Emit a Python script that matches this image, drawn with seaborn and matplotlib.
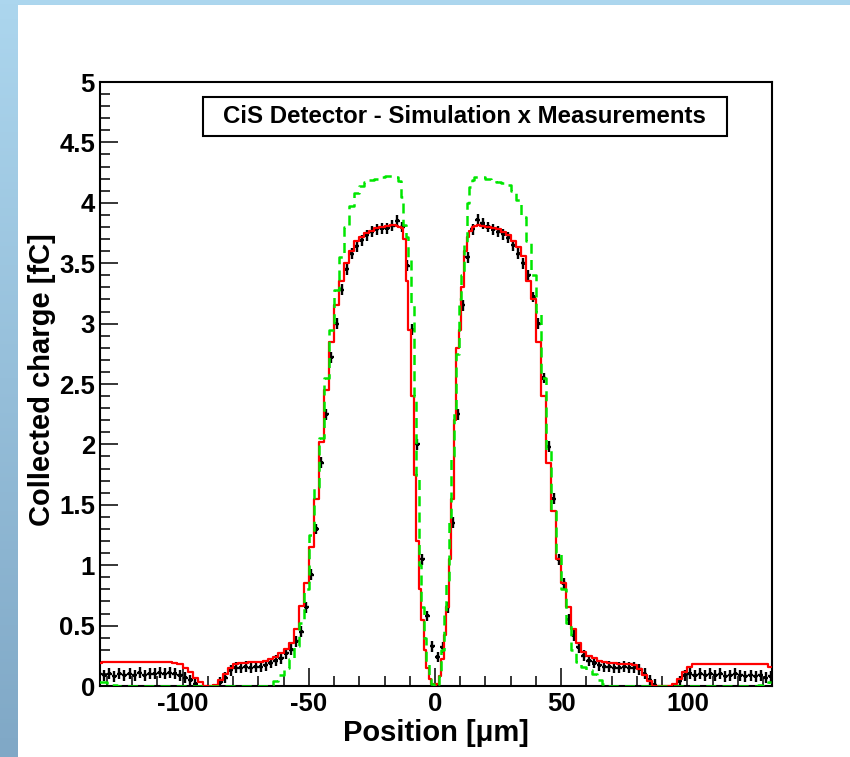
import numpy as np
import pandas as pd
import matplotlib
matplotlib.use("Agg")
import matplotlib.pyplot as plt
import seaborn as sns
from matplotlib.patches import Rectangle
from matplotlib.ticker import MultipleLocator, FuncFormatter

sns.set_theme(style="white")
plt.rcParams['font.family'] = ['Liberation Sans', 'DejaVu Sans']
plt.rcParams['axes.unicode_minus'] = False

# ---------------- data ----------------
# simulation bins: 2 um outside, 1 um in the central region
sim_x = np.concatenate([np.arange(-133, -16, 2), np.arange(-16, 17, 1), np.arange(17, 134, 2)])

red_outer_left = [
    0.19, 0.20, 0.20, 0.20, 0.20, 0.20, 0.20, 0.20, 0.20, 0.20,
    0.20, 0.20, 0.20, 0.20, 0.20, 0.19, 0.18, 0.15, 0.12, 0.07,
    0.03, 0.00, 0.00, 0.01, 0.05, 0.10, 0.15, 0.18, 0.19, 0.19,
    0.20, 0.20, 0.20, 0.21, 0.22, 0.24, 0.27, 0.31, 0.36, 0.47,
    0.66, 0.85, 1.15, 1.55, 2.02, 2.45, 2.85, 3.15, 3.35, 3.50,
    3.60, 3.68, 3.72, 3.75, 3.77, 3.79, 3.80, 3.81, 3.82,
]
red_center = [
    3.82, 3.81, 3.80, 3.79, 3.70, 3.35, 2.95, 2.40, 1.75, 1.20,
    0.80, 0.55, 0.30, 0.15, 0.06, 0.02, 0.00,
    0.02, 0.08, 0.22, 0.42, 0.65, 1.05, 1.55, 2.20, 2.80, 2.95,
    3.30, 3.60, 3.72, 3.77, 3.80, 3.81,
]
red_outer_right = [
    3.82, 3.81, 3.80, 3.79, 3.78, 3.76, 3.73, 3.68, 3.63, 3.56,
    3.35, 3.20, 2.85, 2.40, 1.85, 1.45, 1.05, 0.85, 0.65, 0.47,
    0.36, 0.28, 0.25, 0.23, 0.21, 0.20, 0.19, 0.19, 0.18, 0.18,
    0.18, 0.17, 0.14, 0.09, 0.04, 0.00, 0.00, 0.00, 0.00, 0.02,
    0.06, 0.12, 0.16, 0.18, 0.18, 0.18, 0.18, 0.18, 0.18, 0.18,
    0.18, 0.18, 0.18, 0.18, 0.18, 0.18, 0.18, 0.18, 0.16,
]

green_outer_left = [
    0.03, 0.03, 0.02, 0.01, 0.00, 0.00, 0.00, 0.00, 0.00, 0.00,
    0.00, 0.00, 0.00, 0.00, 0.00, 0.00, 0.00, 0.00, 0.00, 0.00,
    0.00, 0.00, 0.00, 0.00, 0.00, 0.00, 0.00, 0.00, 0.00, 0.00,
    0.00, 0.00, 0.00, 0.00, 0.01, 0.04, 0.09, 0.15, 0.22, 0.33,
    0.52, 0.80, 1.25, 1.65, 2.05, 2.55, 2.95, 3.28, 3.55, 3.80,
    3.97, 4.08, 4.14, 4.17, 4.19, 4.20, 4.21, 4.22, 4.22,
]
green_center = [
    4.22, 4.21, 4.18, 4.05, 3.82, 3.72, 3.55, 3.15, 2.40, 1.75,
    1.00, 0.65, 0.40, 0.20, 0.06, 0.02, 0.00,
    0.02, 0.08, 0.30, 0.62, 0.88, 1.40, 1.90, 2.30, 2.75, 3.20,
    3.40, 3.65, 4.00, 4.13, 4.19, 4.21,
]
green_outer_right = [
    4.21, 4.21, 4.20, 4.19, 4.17, 4.16, 4.15, 4.10, 4.02, 3.88,
    3.68, 3.40, 3.10, 2.55, 1.95, 1.45, 1.10, 0.80, 0.52, 0.30,
    0.20, 0.16, 0.13, 0.10, 0.05, 0.02, 0.00, 0.00, 0.00, 0.00,
    0.00, 0.00, 0.00, 0.00, 0.00, 0.00, 0.00, 0.00, 0.00, 0.00,
    0.00, 0.00, 0.00, 0.00, 0.00, 0.00, 0.00, 0.00, 0.00, 0.00,
    0.00, 0.00, 0.00, 0.00, 0.00, 0.00, 0.01, 0.02, 0.03,
]

sim_red = red_outer_left + red_center + red_outer_right
sim_green = green_outer_left + green_center + green_outer_right

# measurements: 2 um bins
meas_x = np.arange(-133, 134, 2)
meas = [
    0.10, 0.09, 0.10, 0.08, 0.10, 0.09, 0.10, 0.09, 0.11, 0.09,
    0.10, 0.10, 0.11, 0.10, 0.11, 0.10, 0.09, 0.07, 0.05, 0.02,
    0.00, 0.00, 0.00, 0.00, 0.03, 0.07, 0.13, 0.15, 0.15, 0.16,
    0.15, 0.16, 0.16, 0.17, 0.19, 0.21, 0.23, 0.27, 0.30, 0.37,
    0.45, 0.65, 0.92, 1.30, 1.85, 2.25, 2.72, 3.00, 3.28, 3.45,
    3.58, 3.64, 3.69, 3.73, 3.76, 3.78, 3.79, 3.79, 3.81, 3.85,
    3.80, 3.48, 2.95, 2.00, 1.05, 0.58, 0.33,
    0.24, 0.32, 0.65, 1.35, 2.25, 3.15, 3.55, 3.78, 3.86, 3.83,
    3.80, 3.78, 3.76, 3.74, 3.71, 3.65, 3.58, 3.50, 3.40, 3.22,
    3.00, 2.55, 1.98, 1.55, 1.05, 0.85, 0.55, 0.42, 0.32, 0.25,
    0.21, 0.19, 0.17, 0.16, 0.16, 0.15, 0.15, 0.16, 0.15, 0.15,
    0.14, 0.10, 0.05, 0.01, 0.00, 0.00, 0.00, 0.00, 0.04, 0.09,
    0.10, 0.09, 0.10, 0.09, 0.10, 0.09, 0.10, 0.08, 0.09, 0.10,
    0.09, 0.08, 0.09, 0.08, 0.09, 0.07, 0.08,
]
meas_xerr = 1.0
meas_yerr = 0.045

title_text = "CiS Detector - Simulation x Measurements"
x_label = "Position [\u03bcm]"
y_label = "Collected charge [fC]"

sim_df = pd.DataFrame({"x": sim_x, "red": sim_red, "green": sim_green})
meas_df = pd.DataFrame({"x": meas_x, "meas": meas})

# ---------------- figure ----------------
W, H = 850, 757
fig = plt.figure(figsize=(W / 100, H / 100), dpi=100)

# slide background (blue gradient with white panel)
bg = fig.add_axes([0, 0, 1, 1], zorder=-10)
t = np.linspace(0, 1, 200)[:, None]
top_c = np.array([172, 214, 238]) / 255
bot_c = np.array([128, 168, 198]) / 255
grad = top_c[None, None, :] * (1 - t[..., None]) + bot_c[None, None, :] * t[..., None]
grad = np.repeat(grad, 4, axis=1)
bg.imshow(grad, extent=[0, W, H, 0], aspect="auto")
bg.add_patch(Rectangle((18, 5), W - 18, H - 5, facecolor="white", edgecolor="none"))
bg.set_xlim(0, W)
bg.set_ylim(H, 0)
bg.axis("off")

ax = fig.add_axes([100 / W, 71 / H, 672 / W, 604 / H])
ax.set_facecolor("white")

m = meas_df[meas_df["meas"] > 0]
ax.errorbar(m["x"], m["meas"], xerr=meas_xerr, yerr=meas_yerr, fmt="none",
            ecolor="black", elinewidth=1.7, capsize=0, zorder=2)
sns.scatterplot(data=m, x="x", y="meas", marker="s", s=5, color="black",
                edgecolor="none", ax=ax, zorder=2)

sns.lineplot(data=sim_df, x="x", y="red", drawstyle="steps-mid", color="#ff0000",
             lw=1.6, ax=ax, zorder=3, estimator=None, sort=False)
sns.lineplot(data=sim_df, x="x", y="green", drawstyle="steps-mid", color="#00e600",
             lw=1.8, ax=ax, zorder=4, estimator=None, sort=False)
ax.lines[-1].set_dashes([4, 2.5])

ax.set_xlim(-132.7, 133.5)
ax.set_ylim(0, 5)
ax.xaxis.set_major_locator(MultipleLocator(50))
ax.xaxis.set_minor_locator(MultipleLocator(10))
ax.yaxis.set_major_locator(MultipleLocator(0.5))
ax.yaxis.set_minor_locator(MultipleLocator(0.1))
ax.yaxis.set_major_formatter(FuncFormatter(lambda v, p: f"{v:g}"))
ax.xaxis.set_major_formatter(FuncFormatter(lambda v, p: f"{v:g}"))

ax.tick_params(which="both", direction="in", top=False, right=False,
               bottom=True, left=True, color="black", width=1.1)
ax.tick_params(which="major", length=13)
ax.tick_params(which="minor", length=7)
ax.tick_params(axis="y", which="major", pad=3.6)
ax.tick_params(axis="x", which="major", pad=4.5)
for lab in ax.get_xticklabels() + ax.get_yticklabels():
    lab.set_fontsize(18.5)
    lab.set_fontweight("bold")
    lab.set_color("black")

for s in ax.spines.values():
    s.set_visible(True)
    s.set_linewidth(1.5)
    s.set_color("black")

ax.set_xlabel(x_label, fontsize=21, fontweight="bold", color="black", va="center")
ax.xaxis.set_label_coords(0.5, -0.077)
ax.set_ylabel(y_label, fontsize=21, fontweight="bold", color="black", va="center")
ax.yaxis.set_label_coords(-0.087, 0.507)

# title box
ax.add_patch(Rectangle((0.153, 0.911), 0.78, 0.064, transform=ax.transAxes,
                       facecolor="white", edgecolor="black", lw=1.5, zorder=5))
ax.text(0.543, 0.943, title_text, transform=ax.transAxes, ha="center",
        va="center", fontsize=17.3, fontweight="bold", color="black", zorder=6)

fig.savefig("out.png", dpi=100)
